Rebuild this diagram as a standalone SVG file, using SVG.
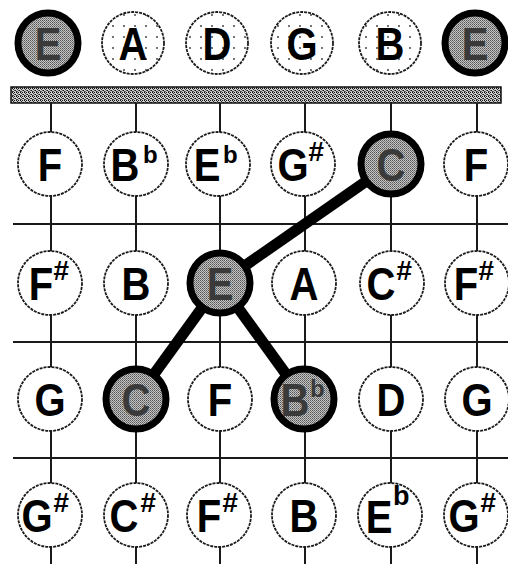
<svg xmlns="http://www.w3.org/2000/svg" width="508" height="564" viewBox="0 0 508 564">
<defs>
<pattern id="bar" width="4" height="4" patternUnits="userSpaceOnUse">
<rect width="4" height="4" fill="#cfcfcf"/>
<rect x="0" y="0" width="1" height="1" fill="#111"/>
<rect x="2" y="0" width="1" height="1" fill="#111"/>
<rect x="1" y="1" width="1" height="1" fill="#333"/>
<rect x="3" y="2" width="1" height="1" fill="#111"/>
<rect x="0" y="3" width="1" height="1" fill="#333"/>
<rect x="2" y="2" width="1" height="1" fill="#555"/>
<rect x="1" y="3" width="1" height="1" fill="#555"/>
</pattern>
<pattern id="dots" width="11" height="11" patternUnits="userSpaceOnUse">
<rect width="11" height="11" fill="#fff"/>
<circle cx="3" cy="4" r="0.9" fill="#333"/>
</pattern>
<pattern id="dith" width="2" height="2" patternUnits="userSpaceOnUse">
<rect width="2" height="2" fill="#c4c4c4"/>
<rect x="0" y="0" width="1" height="1" fill="#555"/>
<rect x="1" y="1" width="1" height="1" fill="#7a7a7a"/>
</pattern>
</defs>
<style>
.grid{stroke:#1a1a1a;stroke-width:2;fill:none}
.nd{fill:#fff;stroke:#1a1a1a;stroke-width:1.8;stroke-dasharray:3 1}
.top{fill:url(#dots);stroke:#1a1a1a;stroke-width:1.8;stroke-dasharray:3 1}
.hl{fill:url(#dith);stroke:#000;stroke-width:7}
.conn{stroke:#000;stroke-width:11;stroke-linecap:butt;fill:none}
text{font-family:"Liberation Sans",Arial,sans-serif;font-weight:bold;fill:#000}
.n{font-size:46px;text-anchor:middle}
.h{fill:#3a3a3a}
.sh{font-size:28px;font-style:italic}
.fl{font-size:24px}
</style>
<rect x="11" y="87" width="490" height="16" fill="url(#bar)" stroke="#111" stroke-width="1.5"/>
<g id="grid">
<path class="grid" d="M51 103V564M136 103V564M220 103V564M305 103V564M391 103V564M477 103V564"/>
<path class="grid" d="M13 224H508M13 342H508M13 458H508"/>
</g>
<g id="connectors">
<line class="conn" x1="391" y1="164" x2="220" y2="283"/>
<line class="conn" x1="220" y1="283" x2="136" y2="399"/>
<line class="conn" x1="220" y1="283" x2="304" y2="399"/>
</g>
<g id="open-E-low"><circle class="hl" cx="48" cy="43" r="30"/><text class="n h" transform="translate(48 43) scale(.87 1)" y="16.5">E</text></g>
<g id="open-A"><circle class="top" cx="133" cy="43" r="31"/><text class="n" transform="translate(133 43) scale(.87 1)" y="16.5">A</text></g>
<g id="open-D"><circle class="top" cx="217" cy="43" r="31"/><text class="n" transform="translate(217 43) scale(.87 1)" y="16.5">D</text></g>
<g id="open-G"><circle class="top" cx="302" cy="43" r="31"/><text class="n" transform="translate(302 43) scale(.87 1)" y="16.5">G</text></g>
<g id="open-B"><circle class="top" cx="390" cy="43" r="31"/><text class="n" transform="translate(390 43) scale(.87 1)" y="16.5">B</text></g>
<g id="open-E-high"><circle class="hl" cx="475" cy="43" r="30"/><text class="n h" transform="translate(475 43) scale(.87 1)" y="16.5">E</text></g>
<g id="r1-F"><circle class="nd" cx="50" cy="164" r="32"/><text class="n" transform="translate(50 164) scale(.87 1)" y="16.5">F</text></g>
<g id="r1-Bb"><circle class="nd" cx="136" cy="164" r="32"/><text class="n" transform="translate(125 164) scale(.87 1)" y="16.5">B</text><text class="fl" x="143" y="163">b</text></g>
<g id="r1-Eb"><circle class="nd" cx="218" cy="164" r="32"/><text class="n" transform="translate(207 164) scale(.87 1)" y="16.5">E</text><text class="fl" x="223" y="163">b</text></g>
<g id="r1-Gs"><circle class="nd" cx="303" cy="164" r="32"/><text class="n" transform="translate(293 164) scale(.87 1)" y="16.5">G</text><text class="sh" x="308" y="161">#</text></g>
<g id="r1-C"><circle class="hl" cx="391" cy="164" r="30"/><text class="n h" transform="translate(391 164) scale(.87 1)" y="16.5">C</text></g>
<g id="r1-F2"><circle class="nd" cx="476" cy="164" r="32"/><text class="n" transform="translate(476 164) scale(.87 1)" y="16.5">F</text></g>
<g id="r2-Fs"><circle class="nd" cx="50" cy="283" r="32"/><text class="n" transform="translate(41 283) scale(.87 1)" y="16.5">F</text><text class="sh" x="53" y="280">#</text></g>
<g id="r2-B"><circle class="nd" cx="136" cy="283" r="32"/><text class="n" transform="translate(136 283) scale(.87 1)" y="16.5">B</text></g>
<g id="r2-E"><circle class="hl" cx="220" cy="283" r="30"/><text class="n h" transform="translate(220 283) scale(.87 1)" y="16.5">E</text></g>
<g id="r2-A"><circle class="nd" cx="304" cy="283" r="32"/><text class="n" transform="translate(304 283) scale(.87 1)" y="16.5">A</text></g>
<g id="r2-Cs"><circle class="nd" cx="392" cy="283" r="32"/><text class="n" transform="translate(381 283) scale(.87 1)" y="16.5">C</text><text class="sh" x="396" y="280">#</text></g>
<g id="r2-Fs2"><circle class="nd" cx="477" cy="283" r="32"/><text class="n" transform="translate(466 283) scale(.87 1)" y="16.5">F</text><text class="sh" x="478" y="280">#</text></g>
<g id="r3-G"><circle class="nd" cx="50" cy="399" r="32"/><text class="n" transform="translate(50 399) scale(.87 1)" y="16.5">G</text></g>
<g id="r3-C"><circle class="hl" cx="136" cy="399" r="30"/><text class="n h" transform="translate(136 399) scale(.87 1)" y="16.5">C</text></g>
<g id="r3-F"><circle class="nd" cx="220" cy="399" r="32"/><text class="n" transform="translate(220 399) scale(.87 1)" y="16.5">F</text></g>
<g id="r3-Bb"><circle class="hl" cx="304" cy="399" r="30"/><text class="n h" transform="translate(295 399) scale(.87 1)" y="16.5">B</text><text class="fl h" x="310" y="397">b</text></g>
<g id="r3-D"><circle class="nd" cx="391" cy="399" r="32"/><text class="n" transform="translate(391 399) scale(.87 1)" y="16.5">D</text></g>
<g id="r3-G2"><circle class="nd" cx="477" cy="399" r="32"/><text class="n" transform="translate(477 399) scale(.87 1)" y="16.5">G</text></g>
<g id="r4-Gs"><circle class="nd" cx="50" cy="515" r="32"/><text class="n" transform="translate(37 515) scale(.87 1)" y="16.5">G</text><text class="sh" x="53" y="512">#</text></g>
<g id="r4-Cs"><circle class="nd" cx="136" cy="515" r="32"/><text class="n" transform="translate(124 515) scale(.87 1)" y="16.5">C</text><text class="sh" x="140" y="512">#</text></g>
<g id="r4-Fs"><circle class="nd" cx="219" cy="515" r="32"/><text class="n" transform="translate(209 515) scale(.87 1)" y="16.5">F</text><text class="sh" x="222" y="512">#</text></g>
<g id="r4-B"><circle class="nd" cx="304" cy="515" r="32"/><text class="n" transform="translate(304 515) scale(.87 1)" y="16.5">B</text></g>
<g id="r4-Eb"><circle class="nd" cx="390" cy="515" r="32"/><text class="n" transform="translate(379 515) scale(.87 1)" y="18">E</text><text class="fl" x="393" y="505" style="font-size:27px">b</text></g>
<g id="r4-Gs2"><circle class="nd" cx="476" cy="515" r="32"/><text class="n" transform="translate(464 515) scale(.87 1)" y="16.5">G</text><text class="sh" x="480" y="512">#</text></g>
</svg>
